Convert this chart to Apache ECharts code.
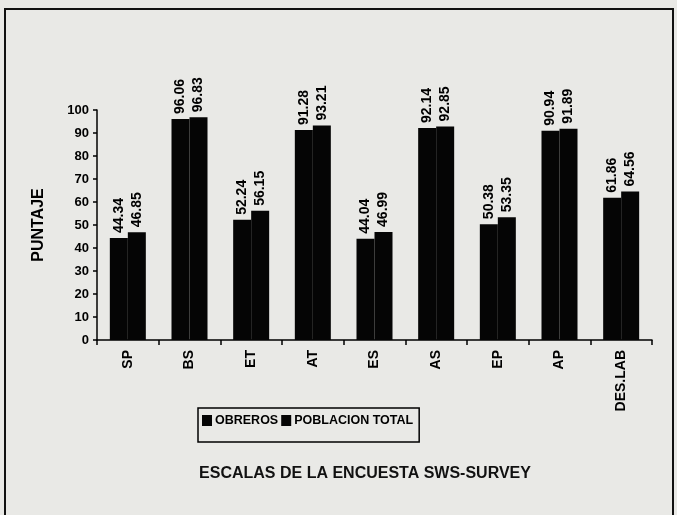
<!DOCTYPE html>
<html>
<head>
<meta charset="utf-8">
<script src="https://cdn.jsdelivr.net/npm/echarts@6/dist/echarts.min.js"></script>
<style>
  html, body { margin: 0; padding: 0; background: #e9e9e6; }
  #chart { width: 677px; height: 515px; }
</style>
</head>
<body>
<div id="chart"></div>
<script>
// Survey scales (x categories)
const categories = ['SP', 'BS', 'ET', 'AT', 'ES', 'AS', 'EP', 'AP', 'DES.LAB'];
// Scores per group
const obreros = [44.34, 96.06, 52.24, 91.28, 44.04, 92.14, 50.38, 90.94, 61.86];
const poblacionTotal = [46.85, 96.83, 56.15, 93.21, 46.99, 92.85, 53.35, 91.89, 64.56];
const seriesNames = ['OBREROS', 'POBLACION TOTAL'];
const yTicks = { min: 0, max: 100, step: 10 };

const FONT = "'Liberation Sans', Arial, sans-serif";

const chart = echarts.init(document.getElementById('chart'));

function barSeries(name, data) {
  return {
    name: name,
    type: 'bar',
    data: data,
    barWidth: 18,
    barGap: '0%',
    itemStyle: { color: '#050505' },
    label: {
      show: true,
      position: 'top',
      rotate: 90,
      align: 'left',
      verticalAlign: 'middle',
      distance: 5,
      color: '#000',
      fontFamily: FONT,
      fontWeight: 'bold',
      fontSize: 14,
      formatter: p => p.value.toFixed(2)
    }
  };
}

chart.setOption({
  backgroundColor: '#e9e9e6',
  animation: false,
  grid: { left: 97, right: 25, top: 110, bottom: 175 },
  legend: {
    data: seriesNames,
    left: 198,
    top: 408,
    width: 224,
    padding: [6, 6, 15, 4],
    borderColor: '#000',
    borderWidth: 1.5,
    borderRadius: 0,
    itemWidth: 10,
    itemHeight: 11,
    itemGap: 3,
    icon: 'rect',
    textStyle: { fontFamily: FONT, fontWeight: 'bold', fontSize: 12.5, color: '#000', padding: [0, 0, 0, -2] }
  },
  xAxis: {
    type: 'category',
    data: categories,
    axisLine: { lineStyle: { color: '#000', width: 1.5 } },
    axisTick: { show: true, length: 5, lineStyle: { color: '#000', width: 1.5 } },
    axisLabel: {
      rotate: 90,
      margin: 10,
      color: '#000',
      fontFamily: FONT,
      fontWeight: 'bold',
      fontSize: 14
    }
  },
  yAxis: {
    type: 'value',
    min: yTicks.min,
    max: yTicks.max,
    interval: yTicks.step,
    name: 'PUNTAJE',
    nameLocation: 'middle',
    nameRotate: 90,
    nameGap: 50,
    nameTextStyle: { fontFamily: FONT, fontWeight: 'bold', fontSize: 16, color: '#000' },
    splitLine: { show: false },
    axisLine: { show: true, lineStyle: { color: '#000', width: 1.5 } },
    axisTick: { show: true, length: 4, lineStyle: { color: '#000', width: 1.5 } },
    axisLabel: { margin: 8, color: '#000', fontFamily: FONT, fontWeight: 'bold', fontSize: 13 }
  },
  graphic: [
    {
      type: 'rect',
      shape: { x: 5, y: 9, width: 668, height: 510 },
      style: { fill: null, stroke: '#111', lineWidth: 2 },
      silent: true
    },
    {
      type: 'text',
      x: 365,
      y: 474,
      silent: true,
      style: {
        text: 'ESCALAS DE LA ENCUESTA SWS-SURVEY',
        align: 'center',
        verticalAlign: 'middle',
        fill: '#111',
        font: "bold 16px 'Liberation Sans', Arial, sans-serif"
      }
    }
  ],
  series: [
    barSeries(seriesNames[0], obreros),
    barSeries(seriesNames[1], poblacionTotal)
  ]
});
</script>
</body>
</html>
